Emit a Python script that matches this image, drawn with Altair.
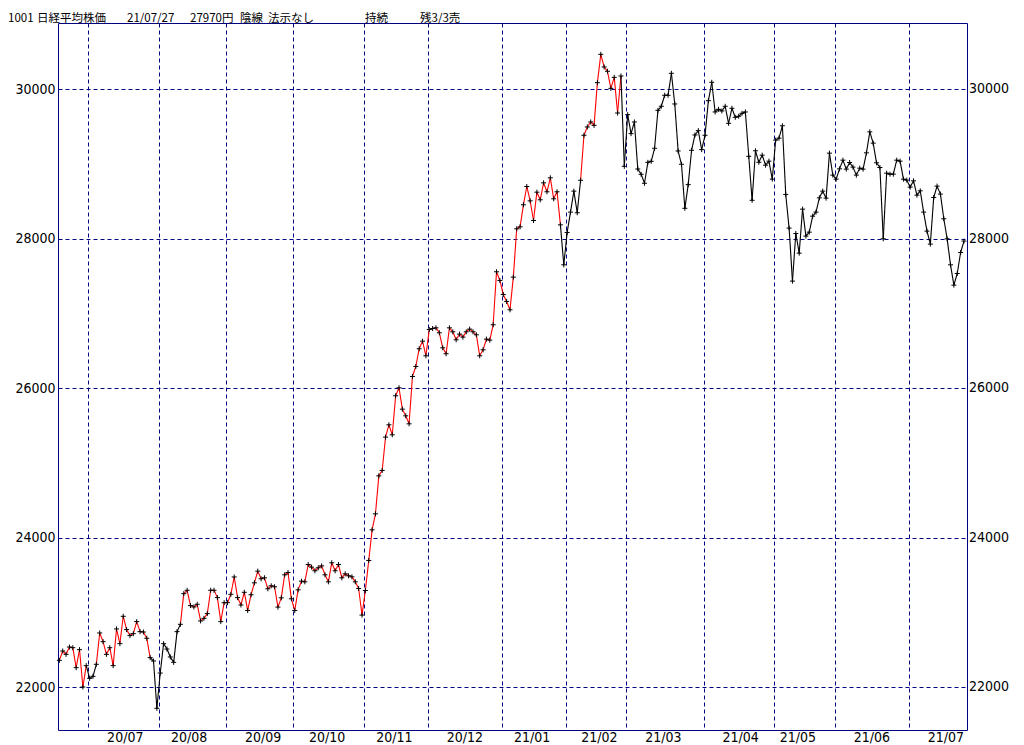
import altair as alt
import pandas as pd

# ---- daily closes (Nikkei 225) ----
jun20 = [22361, 22486, 22441, 22539, 22530, 22263, 22504, 22004, 22290]
jul20 = [22120, 22147, 22308, 22727, 22611, 22441, 22530, 22290, 22781, 22584, 22950,
         22772, 22692, 22718, 22879, 22745, 22740, 22656, 22397, 22352, 21719]
aug20 = [22191, 22584, 22512, 22406, 22334, 22745, 22843, 23253, 23298, 23093,
         23075, 23111, 22888, 22923, 22986, 23298, 23298, 23200, 22879, 23132]
sep20 = [23132, 23244, 23476, 23200, 23101, 23271, 23028, 23238, 23398, 23554,
         23452, 23465, 23318, 23358, 23345, 23073, 23197, 23505, 23536, 23184]
oct20 = [23028, 23304, 23420, 23411, 23643, 23608, 23559, 23599, 23625, 23505, 23411,
         23666, 23559, 23643, 23465, 23518, 23492, 23478, 23411, 23322, 22966]
nov20 = [23295, 23697, 24107, 24321, 24829, 24901, 25347, 25512, 25378, 25900,
         26007, 25721, 25632, 25525, 26158, 26292, 26529, 26631, 26435]
dec20 = [26787, 26800, 26809, 26743, 26542, 26462, 26809, 26756, 26649, 26725, 26685,
         26756, 26792, 26756, 26716, 26435, 26515, 26658, 26644, 26850, 27559, 27443]
jan21 = [27255, 27162, 27050, 27487, 28134, 28160, 28455, 28700, 28508, 28245,
         28624, 28522, 28749, 28629, 28816, 28535, 28629, 28187, 27652]
feb21 = [28085, 28357, 28638, 28348, 28783, 29385, 29496, 29563, 29518, 30089,
         30468, 30299, 30241, 30013, 30160, 29683, 30178, 28970]
mar21 = [29661, 29407, 29563, 28934, 28863, 28743, 29023, 29037, 29211, 29719, 29773, 29920,
         29920, 30214, 29804, 29175, 28997, 28408, 28725, 29184, 29389, 29447, 29193]
apr21 = [29385, 29848, 30094, 29697, 29732, 29710, 29773, 29545, 29746, 29625, 29639,
         29679, 29697, 29104, 28515, 29178, 29024, 29119, 28985, 29039, 28798]
may21 = [29320, 29347, 29512, 28593, 28143, 27434, 28071, 27808, 28397, 28036,
         28089, 28303, 28357, 28548, 28638, 28544, 29146, 28852]
jun21 = [28798, 28936, 29052, 28932, 29021, 28959, 28852, 28945, 28932, 29150, 29431,
         29280, 29017, 28954, 28000, 28878, 28865, 28865, 29052, 29039, 28798, 28785]
jul21 = [28691, 28776, 28584, 28642, 28357, 28103, 27929, 28553, 28705, 28598,
         28268, 28000, 27652, 27380, 27536, 27817, 27970]

months_data = [jun20, jul20, aug20, sep20, oct20, nov20, dec20,
               jan21, feb21, mar21, apr21, may21, jun21, jul21]

# month labels and the trading-day index each label is centred on
month_labels = ["20/07", "20/08", "20/09", "20/10", "20/11", "20/12", "21/01",
                "21/02", "21/03", "21/04", "21/05", "21/06", "21/07"]
label_day = [20, 39, 61, 80, 100, 121, 141, 161, 180, 203, 220, 242, 264]

# runs of segments drawn black (sell state); the rest are red
black_runs = [(8, 10), (27, 35), (149, 154), (167, 268)]

y_ticks = [22000, 24000, 26000, 28000, 30000]

header = ["1001", "日経平均株価", "21/07/27", "27970円", "陰線", "法示なし", "持続", "残3/3売"]

# ---- build tables ----
values = [v for m in months_data for v in m]
n = len(values)
idx = list(range(n))

starts = []
c = 0
for m in months_data[:-1]:
    c += len(m)
    starts.append(c)
grid_x = [s - 0.4 for s in starts]

sig = ["up"] * (n - 1)
for a, b in black_runs:
    for s in range(a, min(b, n - 2) + 1):
        sig[s] = "down"

seg = pd.DataFrame({"x": idx[:-1], "x2": idx[1:], "y": values[:-1], "y2": values[1:], "c": sig})
pts = pd.DataFrame({"x": idx, "y": values})
lab = pd.DataFrame({"x": [d - 0.4 for d in label_day], "t": month_labels})
ylab = pd.DataFrame({"y": y_ticks, "t": [str(v) for v in y_ticks]})

W, H = 909, 707
NAVY = "#000080"
LFONT = "Liberation Sans Narrow, DejaVu Sans Condensed, Liberation Sans"

xs = alt.Scale(domain=[-0.4, 269.9], nice=False, zero=False)
ys = alt.Scale(domain=[21429, 30887], nice=False, zero=False)
xaxis = alt.Axis(values=grid_x, grid=True, gridColor=NAVY, gridDash=[4, 3], gridWidth=1,
                 gridOpacity=1, labels=False, ticks=False, domain=False, title=None)
yaxis = alt.Axis(values=y_ticks, grid=True, gridColor=NAVY, gridDash=[4, 3], gridWidth=1,
                 gridOpacity=1, ticks=False, domain=False, title=None, labelColor="black",
                 labelFont=LFONT, labelFontSize=14, labelPadding=3, format="d")

X = alt.X("x:Q", scale=xs, axis=xaxis)
Y = alt.Y("y:Q", scale=ys, axis=yaxis)

lines = alt.Chart(seg).mark_rule(strokeWidth=1.1).encode(
    x=X, x2="x2:Q", y=Y, y2="y2:Q",
    color=alt.Color("c:N", scale=alt.Scale(domain=["up", "down"], range=["#ff0000", "#000000"]),
                    legend=None),
)

points = alt.Chart(pts).mark_point(
    shape="M-1,0H1M0,-1V1", size=25, filled=False, stroke="black", strokeWidth=1, opacity=1
).encode(x=X, y=Y)

xlabels = alt.Chart(lab).mark_text(
    font=LFONT, fontSize=14, color="black", baseline="middle", align="center"
).encode(x=X, y=alt.value(H + 8), text="t:N")

rlabels = alt.Chart(ylab).mark_text(
    font=LFONT, fontSize=14, color="black", baseline="middle", align="left"
).encode(x=alt.value(W + 2), y=Y, text="t:N")

head_x = [-50, -21, 69, 132, 182, 210, 307, 362]
dummy = pd.DataFrame({"a": [0]})
head_layers = [
    alt.Chart(dummy).mark_text(font="Noto Sans CJK JP", fontSize=11.5, color="black",
                               align="left", baseline="alphabetic").encode(
        x=alt.value(hx), y=alt.value(-1.5), text=alt.value(t))
    for t, hx in zip(header, head_x)
]

chart = alt.layer(lines, points, xlabels, rlabels, *head_layers).properties(
    width=W, height=H,
    autosize=alt.AutoSizeParams(type="none"),
    padding={"left": 50, "top": 15, "right": 48, "bottom": 22},
).configure_view(stroke=NAVY, strokeWidth=1, fill="white")

chart.save("out.html", embed_options={"renderer": "svg", "actions": False})
